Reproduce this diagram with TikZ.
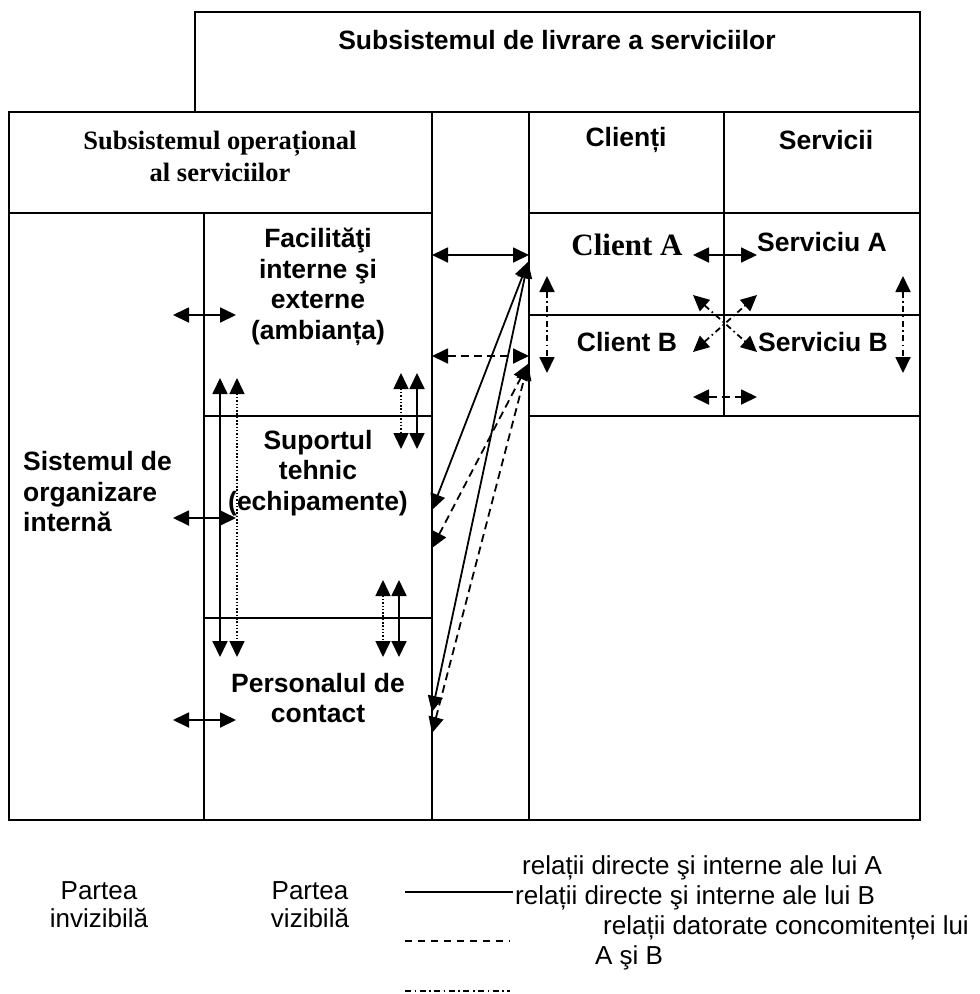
\documentclass[tikz,border=0pt]{standalone}
\usepackage{fontspec}
\setmainfont{Liberation Serif}
\setsansfont{Liberation Sans}
\usetikzlibrary{arrows.meta}

\tikzset{
  frame/.style={line width=2pt},
  lbl/.style={font=\sffamily\bfseries\fontsize{26.5}{30.5}\selectfont, align=center, inner sep=0pt},
  serif lbl/.style={font=\rmfamily\bfseries\fontsize{26.5}{32}\selectfont, align=center, inner sep=0pt},
  legendtxt/.style={font=\sffamily\fontsize{26}{28}\selectfont, align=center, inner sep=0pt},
  rel/.style={line width=1.8pt, {Triangle[length=16pt,width=15pt]}-{Triangle[length=16pt,width=15pt]}},
  dashrel/.style={rel, dash pattern=on 8pt off 5pt},
  dotrel/.style={rel, line width=1.5pt, dash pattern=on 1.5pt off 1.8pt},
  concom/.style={rel, dash pattern=on 6pt off 3.5pt on 1.6pt off 3.5pt}
}

\begin{document}
\begin{tikzpicture}[x=1pt,y=-1pt]
  \useasboundingbox (0,0) rectangle (980,994);

  % frames
  \draw[frame] (195,112) -- (195,12) -- (920,12) -- (920,112);
  \draw[frame] (9,112) rectangle (920,820);
  \draw[frame] (9,213) -- (432,213) (529,213) -- (920,213);
  \draw[frame] (432,112) -- (432,820) (529,112) -- (529,820);
  \draw[frame] (204,213) -- (204,820) (724,112) -- (724,416);
  \draw[frame] (529,315) -- (920,315) (529,416) -- (920,416);
  \draw[frame] (204,416) -- (432,416) (204,618) -- (432,618);

  % texts
  \node[lbl] (livrare) at (557,40) {Subsistemul de livrare a serviciilor};
  \node[serif lbl] (operational) at (220,156) {Subsistemul operațional\\al serviciilor};
  \node[lbl] (clienti) at (626,140) {Clienți};
  \node[lbl] (servicii) at (826,140) {Servicii};
  \node[lbl] (facilitati) at (318,287) {Facilităţi\\interne şi\\externe\\(ambianța)};
  \node[lbl] (suport) at (318,473) {Suportul\\tehnic\\(echipamente)};
  \node[lbl] (personal) at (318,698) {Personalul de\\contact};
  \node[lbl, align=left, anchor=west] (organizare) at (23,492) {Sistemul de\\organizare\\internă};
  \node[serif lbl, font=\rmfamily\bfseries\fontsize{31}{34}\selectfont] (clientA) at (627,245) {Client A};
  \node[lbl] (serviciuA) at (822,242) {Serviciu A};
  \node[lbl] (clientB) at (627,342) {Client B};
  \node[lbl] (serviciuB) at (823,342) {Serviciu B};

  % end points
  \coordinate (cA) at (528,262);
  \coordinate (cB) at (528,364);

  % invisible part <-> visible part
  \draw[rel] (173,315) -- (236,315);
  \draw[rel] (173,518) -- (236,518);
  \draw[rel] (173,720) -- (236,720);
  \draw[rel] (220,378) -- (220,657);
  \draw[dotrel] (237,378) -- (237,657);
  \draw[dotrel] (401,373) -- (401,449);
  \draw[rel] (417,373) -- (417,449);
  \draw[dotrel] (383,580) -- (383,657);
  \draw[rel] (399,580) -- (399,657);

  % visible part <-> clients
  \draw[rel] (432,255) -- (529,255);
  \draw[dashrel] (432,356) -- (529,356);
  \draw[rel] (432,510) -- (cA);
  \draw[rel] (432,712) -- (cA);
  \draw[dashrel] (432,548) -- (cB);
  \draw[dashrel] (432,733) -- (cB);

  % clients <-> services
  \draw[rel] (693,255) -- (757,255);
  \draw[dashrel] (693,397) -- (757,397);
  \draw[concom] (547,276) -- (547,373);
  \draw[concom] (903,276) -- (903,373);
  \draw[concom] (693,295) -- (757,352);
  \draw[concom] (693,352) -- (757,295);

  % legend
  \node[legendtxt] (invizibil) at (99,905) {Partea\\invizibilă};
  \node[legendtxt] (vizibil) at (310,905) {Partea\\vizibilă};
  \coordinate (solidA) at (405,892);
  \coordinate (solidB) at (513,892);
  \coordinate (dashA) at (405,941);
  \coordinate (dashB) at (510,941);
  \coordinate (ddotA) at (405,991);
  \coordinate (ddotB) at (510,991);
  \draw[line width=1.8pt] (solidA) -- (solidB);
  \draw[line width=1.8pt, dash pattern=on 7pt off 6pt] (dashA) -- (dashB);
  \draw[line width=1.8pt, dash pattern=on 6pt off 3.5pt on 1.6pt off 3.5pt] (ddotA) -- (ddotB);
  \node[legendtxt, anchor=west] (relA) at (522,868) {relații directe şi interne ale lui A};
  \node[legendtxt, anchor=west] (relB) at (515,898) {relații directe şi interne ale lui B};
  \node[legendtxt, anchor=west] (relAB) at (603,928) {relații datorate concomitenței lui};
  \node[legendtxt, anchor=west] (relAB2) at (595,958) {A şi B};
\end{tikzpicture}
\end{document}
